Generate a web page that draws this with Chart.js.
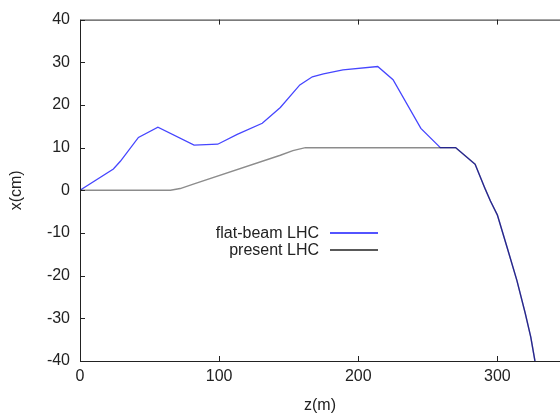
<!DOCTYPE html>
<html>
<head>
<meta charset="utf-8">
<script src="https://cdn.jsdelivr.net/npm/chart.js@4"></script>
<style>
  html, body { margin: 0; padding: 0; background: #fff; overflow: hidden; }
  #wrap { width: 560px; height: 415px; }
</style>
</head>
<body>
<div id="wrap"><canvas id="chart" width="560" height="415"></canvas></div>
<script>
// z (m) and x (cm)
const flatBeamZ = [0, 24, 29, 42, 56, 82, 99, 113, 131, 144, 158, 167, 175, 189, 214, 225, 245, 259, 270, 284, 291, 295, 300, 307, 314, 320, 324, 327];
const flatBeamX = [0, 5.0, 6.8, 12.4, 14.8, 10.6, 10.8, 13.1, 15.7, 19.4, 24.7, 26.6, 27.3, 28.2, 29.0, 25.9, 14.5, 10, 10, 6.1, 0.5, -2.5, -5.8, -13.4, -21.1, -28.8, -34.4, -40];
const presentZ = [0, 65, 72, 82, 144, 153, 162, 270, 284, 291, 295, 300, 307, 314, 320, 324, 327];
const presentX = [0, 0, 0.4, 1.5, 8.2, 9.3, 10, 10, 6.1, 0.5, -2.5, -5.8, -13.4, -21.1, -28.8, -34.4, -40];
const xTicks = [0, 100, 200, 300];
const yTicks = [-40, -30, -20, -10, 0, 10, 20, 30, 40];
const seriesNames = ['flat-beam LHC', 'present LHC'];

const FONT = '"Liberation Sans", Arial, Helvetica, sans-serif';
const INK = '#222';
const FS = 16;

const toPoints = (zs, xs) => zs.map((z, i) => ({ x: z, y: xs[i] }));

// gnuplot-like frame with inward ticks
const framePlugin = {
    id: 'frame',
    afterDatasetsDraw(chart) {
        const { ctx, chartArea: a, scales } = chart;
        const tl = 5;
        ctx.save();
        ctx.strokeStyle = INK;
        ctx.lineWidth = 1;
        ctx.beginPath();
        ctx.moveTo(a.right + 1, a.top + 0.5);
        ctx.lineTo(a.left + 0.5, a.top + 0.5);
        ctx.lineTo(a.left + 0.5, a.bottom + 0.5);
        ctx.lineTo(a.right + 1, a.bottom + 0.5);
        xTicks.forEach(v => {
            const px = Math.round(scales.x.getPixelForValue(v)) + 0.5;
            ctx.moveTo(px, a.bottom);
            ctx.lineTo(px, a.bottom - tl);
            ctx.moveTo(px, a.top);
            ctx.lineTo(px, a.top + tl);
        });
        yTicks.forEach(v => {
            const py = Math.round(scales.y.getPixelForValue(v)) + 0.5;
            ctx.moveTo(a.left, py);
            ctx.lineTo(a.left + tl, py);
        });
        ctx.stroke();
        ctx.restore();
    }
};

// key inside the plot: text right-aligned, sample line to its right
const keyPlugin = {
    id: 'key',
    afterDraw(chart) {
        const { ctx } = chart;
        const textRight = 319, lineL = 330, lineR = 378;
        const rows = [233, 250];
        const colors = ['#1a1aff', INK];
        ctx.save();
        ctx.font = FS + 'px ' + FONT;
        ctx.textAlign = 'right';
        ctx.textBaseline = 'middle';
        seriesNames.forEach((name, i) => {
            ctx.fillStyle = INK;
            ctx.fillText(name, textRight, rows[i] + 1);
        });
        seriesNames.forEach((name, i) => {
            ctx.strokeStyle = colors[i];
            ctx.lineWidth = 1.5;
            ctx.beginPath();
            ctx.moveTo(lineL, rows[i]);
            ctx.lineTo(lineR, rows[i]);
            ctx.stroke();
        });
        ctx.restore();
    }
};

new Chart(document.getElementById('chart'), {
    type: 'line',
    data: {
        datasets: [
            {
                label: seriesNames[1],
                data: toPoints(presentZ, presentX),
                borderColor: 'rgba(0,0,0,0.45)',
                borderWidth: 1.5,
                pointRadius: 0,
                tension: 0,
                order: 0
            },
            {
                label: seriesNames[0],
                data: toPoints(flatBeamZ, flatBeamX),
                borderColor: 'rgb(70,70,255)',
                borderWidth: 1.3,
                pointRadius: 0,
                tension: 0,
                order: 1
            }
        ]
    },
    options: {
        responsive: false,
        animation: false,
        devicePixelRatio: 1,
        layout: { padding: { top: 18, right: 0, left: 0, bottom: 0 } },
        plugins: {
            legend: { display: false },
            tooltip: { enabled: false }
        },
        scales: {
            x: {
                type: 'linear',
                min: 0,
                max: 345,
                afterBuildTicks: s => { s.ticks = xTicks.map(v => ({ value: v })); },
                afterFit: s => { s.height = 54; },
                grid: { display: false, drawTicks: false },
                border: { display: false },
                ticks: { color: INK, font: { family: FONT, size: FS }, padding: 6, maxRotation: 0 },
                title: { display: true, text: 'z(m)', color: INK, font: { family: FONT, size: FS }, padding: { top: 0, bottom: 0 } }
            },
            y: {
                min: -40,
                max: 40,
                afterBuildTicks: s => { s.ticks = yTicks.map(v => ({ value: v })); },
                afterFit: s => { s.width = 80; },
                grid: { display: false, drawTicks: false },
                border: { display: false },
                ticks: { color: INK, font: { family: FONT, size: FS }, padding: 10 },
                title: { display: true, text: 'x(cm)', color: INK, font: { family: FONT, size: FS }, padding: { top: 7, bottom: 0 } }
            }
        }
    },
    plugins: [framePlugin, keyPlugin]
});
</script>
</body>
</html>
